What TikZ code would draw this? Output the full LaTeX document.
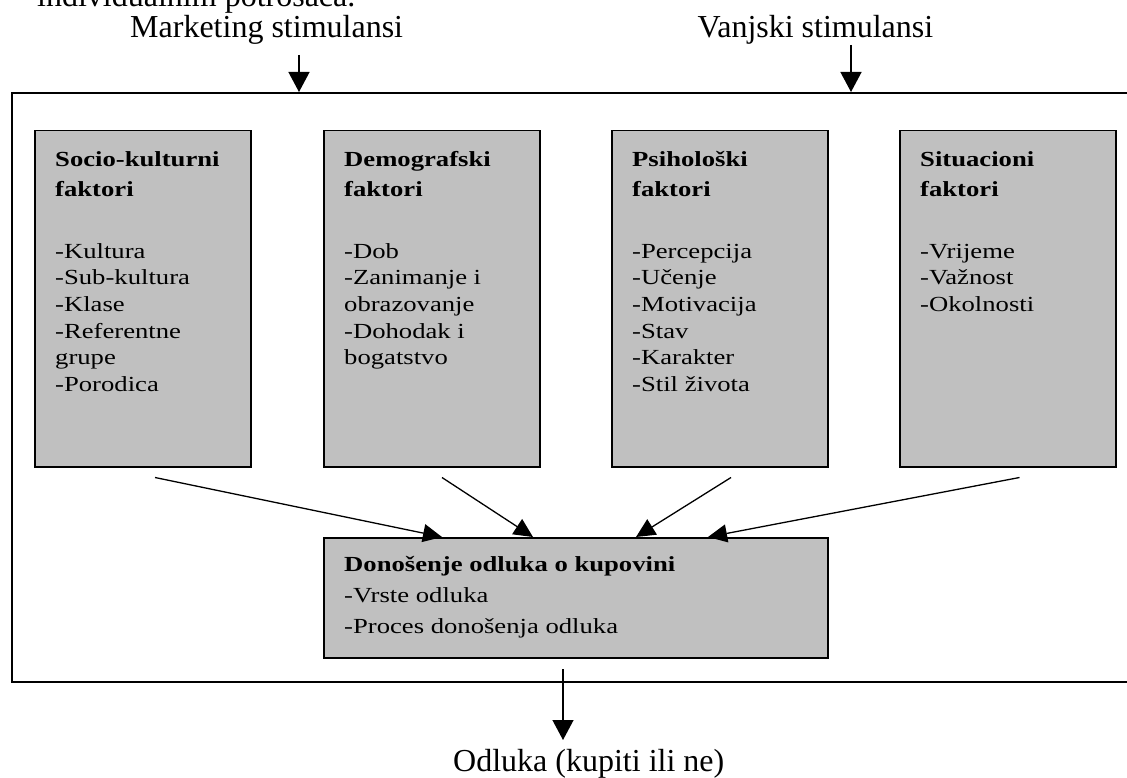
\documentclass[tikz,border=0pt]{standalone}
\usepackage{fontspec}
\setmainfont{Liberation Serif}
\newfontfamily\bxf{Liberation Serif}[FakeStretch=1.24]
\usetikzlibrary{arrows.meta,calc}
\definecolor{boxgray}{HTML}{C0C0C0}
\tikzset{
  factbox/.style={draw=black, fill=boxgray, line width=1.5pt, inner sep=0pt, anchor=north west, minimum width=216pt, minimum height=336pt},
  btext/.style={inner sep=0pt, anchor=north west, align=left, font=\bxf\fontsize{21.5}{26.6}\selectfont},
  lbl/.style={inner sep=0pt, anchor=base west, font=\fontsize{32}{38}\selectfont},
  arr/.style={line width=1.3pt, -{Triangle[length=20pt,width=21pt]}},
  darr/.style={line width=1.3pt, -{Triangle[length=19pt,width=18pt]}},
}
\begin{document}
\begin{tikzpicture}[x=1pt,y=-1pt]
\useasboundingbox (0,0) rectangle (1127,778);
% top labels
\node[lbl] (top) at (37,7) {individualnim potrošača.};
\node[lbl] (mk) at (130,38) {Marketing stimulansi};
\node[lbl] (vs) at (697.5,38) {Vanjski stimulansi};
% outer frame
\node[draw=black, line width=1.6pt, inner sep=0pt, anchor=north west, minimum width=1122pt, minimum height=589pt] (outer) at (11,92) {};
% factor boxes
\node[factbox] (b1) at (34,130) {};
\node[factbox] (b2) at (323,130) {};
\node[factbox] (b3) at (611,130) {};
\node[factbox] (b4) at (899,130) {};
\node[btext] (t1) at (55,150) {\rule{0pt}{16pt}\textbf{Socio-kulturni}\\[3.4pt]\textbf{faktori}\\[35.4pt]-Kultura\\-Sub-kultura\\-Klase\\-Referentne\\grupe\\-Porodica};
\node[btext] (t2) at (344,150) {\rule{0pt}{16pt}\textbf{Demografski}\\[3.4pt]\textbf{faktori}\\[35.4pt]-Dob\\-Zanimanje i\\obrazovanje\\-Dohodak i\\bogatstvo};
\node[btext] (t3) at (632,150) {\rule{0pt}{16pt}\textbf{Psihološki}\\[3.4pt]\textbf{faktori}\\[35.4pt]-Percepcija\\-Učenje\\-Motivacija\\-Stav\\-Karakter\\-Stil života};
\node[btext] (t4) at (920,150) {\rule{0pt}{16pt}\textbf{Situacioni}\\[3.4pt]\textbf{faktori}\\[35.4pt]-Vrijeme\\-Važnost\\-Okolnosti};
% decision box
\node[draw=black, fill=boxgray, line width=1.5pt, inner sep=0pt, anchor=north west, minimum width=504pt, minimum height=120pt] (dec) at (323,537) {};
\node[btext] (dect) at (344,555.7) {\rule{0pt}{16pt}\textbf{Donošenje odluka o kupovini}\\[4.4pt]-Vrste odluka\\[4pt]-Proces donošenja odluka};
% arrows into decision box
\draw[darr] ($(b1.south west)+(121,10)$) -- ($(dec.north west)+(119,0)$);
\draw[darr] ($(b2.south west)+(119,10)$) -- ($(dec.north west)+(210,0)$);
\draw[darr] ($(b3.south west)+(120,10)$) -- ($(dec.north west)+(313,0)$);
\draw[darr] ($(b4.south west)+(120.5,10)$) -- ($(dec.north west)+(385,0)$);
% stimulus arrows
\coordinate (mka) at (299,55);
\coordinate (vsa) at (851,45);
\draw[arr] (mka) -- (mka |- outer.north);
\draw[arr] (vsa) -- (vsa |- outer.north);
% outcome
\node[lbl] (od) at (453,771) {Odluka (kupiti ili ne)};
\coordinate (oda) at (563,669);
\coordinate (odt) at (563,740);
\draw[arr] (oda) -- (odt);
\end{tikzpicture}
\end{document}
